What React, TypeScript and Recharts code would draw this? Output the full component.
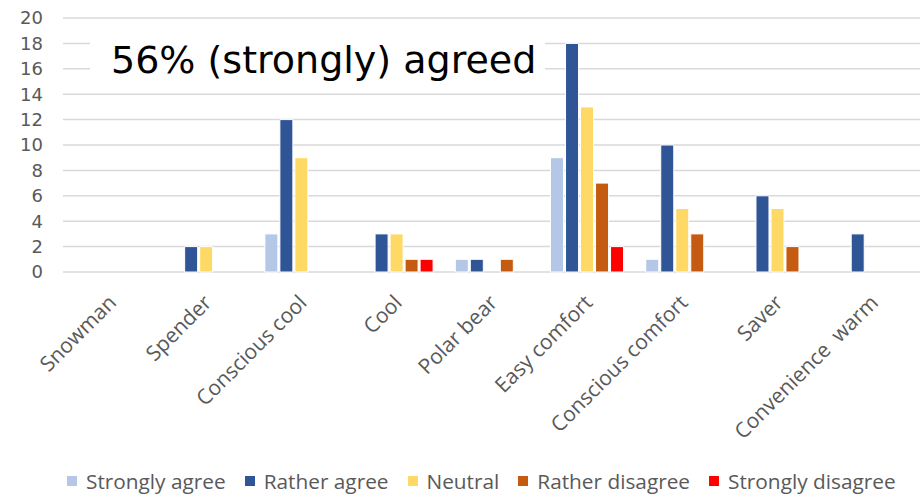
import React from "react";
import { BarChart, Bar, XAxis, YAxis, CartesianGrid } from "recharts";

const categories = [
  "Snowman",
  "Spender",
  "Conscious cool",
  "Cool",
  "Polar bear",
  "Easy comfort",
  "Conscious comfort",
  "Saver",
  "Convenience  warm",
];

const stronglyAgree = [0, 0, 3, 0, 1, 9, 1, 0, 0];
const ratherAgree = [0, 2, 12, 3, 1, 18, 10, 6, 3];
const neutral = [0, 2, 9, 3, 0, 13, 5, 5, 0];
const ratherDisagree = [0, 0, 0, 1, 1, 7, 3, 2, 0];
const stronglyDisagree = [0, 0, 0, 1, 0, 2, 0, 0, 0];

const yTicks = [0, 2, 4, 6, 8, 10, 12, 14, 16, 18, 20];

const series = [
  { key: "sa", name: "Strongly agree", color: "#B4C7E7", values: stronglyAgree },
  { key: "ra", name: "Rather agree", color: "#2F5597", values: ratherAgree },
  { key: "n", name: "Neutral", color: "#FFD966", values: neutral },
  { key: "rd", name: "Rather disagree", color: "#C55A11", values: ratherDisagree },
  { key: "sd", name: "Strongly disagree", color: "#FF0000", values: stronglyDisagree },
];

const data = categories.map((name, i) => {
  const row: Record<string, string | number> = { name };
  series.forEach((s) => {
    row[s.key] = s.values[i];
  });
  return row;
});

const textGray = "#595959";

function XTick({ x, y, payload }: any) {
  return (
    <g transform={`translate(${x + 7},${y + 30})`}>
      <text
        textAnchor="end"
        transform="rotate(-45)"
        fill={textGray}
        fontSize={21}
        fontFamily="'Open Sans', sans-serif"
        style={{ whiteSpace: "pre" }}
      >
        {payload.value}
      </text>
    </g>
  );
}

export default function App() {
  return (
    <div
      style={{
        position: "absolute",
        left: 0,
        top: 0,
        width: 920,
        height: 496,
        background: "#fff",
      }}
    >
      <BarChart
        width={920}
        height={496}
        data={data}
        margin={{ top: 18, right: 0, bottom: 0, left: 0 }}
        barCategoryGap="12%"
        barGap={2}
      >
        <CartesianGrid vertical={false} stroke="#D9D9D9" strokeWidth={1.5} />
        <XAxis
          dataKey="name"
          interval={0}
          height={224}
          axisLine={false}
          tickLine={false}
          tickSize={0}
          tick={<XTick />}
        />
        <YAxis
          domain={[0, 20]}
          ticks={yTicks}
          interval={0}
          width={63}
          axisLine={false}
          tickLine={false}
          tickSize={0}
          tickMargin={20}
          tick={{ fill: textGray, fontSize: 18, fontFamily: "'DejaVu Sans', sans-serif" }}
        />
        {series.map((s) => (
          <Bar
            key={s.key}
            dataKey={s.key}
            name={s.name}
            fill={s.color}
            stroke="#ffffff"
            strokeWidth={1}
            isAnimationActive={false}
          />
        ))}
      </BarChart>

      <div
        style={{
          position: "absolute",
          left: 90,
          top: 30,
          width: 455,
          height: 55,
          background: "#fff",
        }}
      >
        <span
          style={{
            position: "absolute",
            left: 21,
            top: 11,
            fontSize: 38,
            lineHeight: "38px",
            fontFamily: "'DejaVu Sans', sans-serif",
            color: "#000",
            whiteSpace: "nowrap",
          }}
        >
          56% (strongly) agreed
        </span>
      </div>

      <div
        style={{
          position: "absolute",
          left: 67,
          top: 469,
          display: "flex",
          alignItems: "center",
          gap: 19,
          fontFamily: "'Open Sans', sans-serif",
          fontSize: 20.8,
          lineHeight: "24px",
          color: textGray,
          whiteSpace: "nowrap",
        }}
      >
        {series.map((s) => (
          <div key={s.key} style={{ display: "flex", alignItems: "center" }}>
            <span
              style={{
                display: "inline-block",
                width: 10,
                height: 10,
                background: s.color,
                marginRight: 9,
              }}
            />
            <span>{s.name}</span>
          </div>
        ))}
      </div>
    </div>
  );
}
